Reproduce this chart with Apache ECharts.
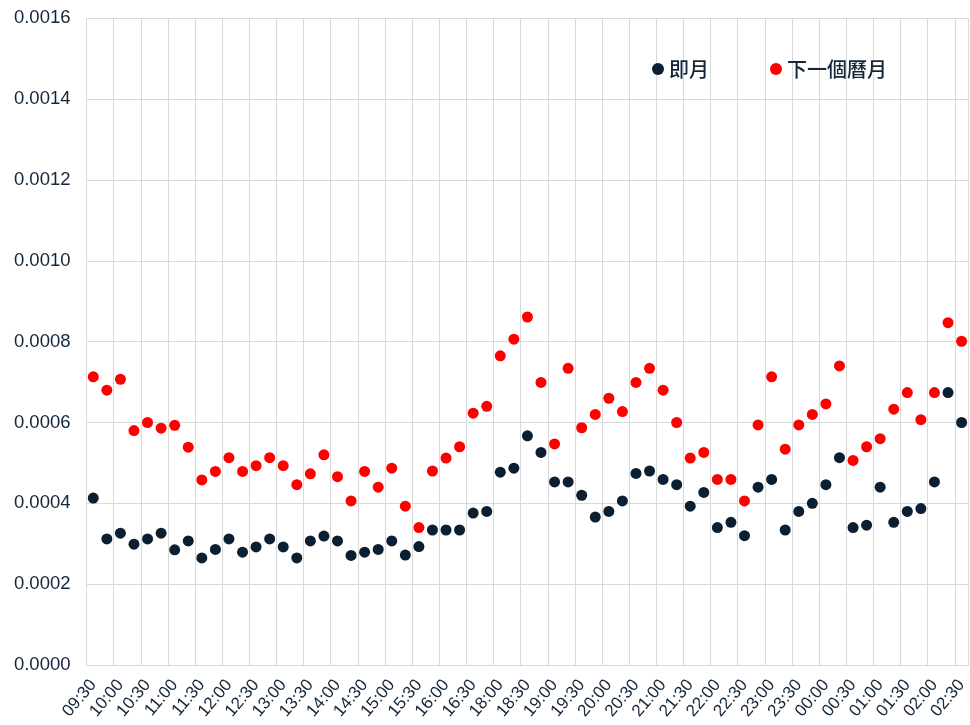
<!DOCTYPE html>
<html>
<head>
<meta charset="utf-8">
<script src="https://cdn.jsdelivr.net/npm/echarts@6/dist/echarts.min.js"></script>
<style>
html,body{margin:0;padding:0;background:#fff;}
#chart{width:970px;height:725px;}
</style>
</head>
<body>
<div id="chart"></div>
<script>
const categories = [
  "09:30","09:45","10:00","10:15","10:30","10:45","11:00","11:15","11:30","11:45",
  "12:00","12:15","12:30","12:45","13:00","13:15","13:30","13:45","14:00","14:15",
  "14:30","14:45","15:00","15:15","15:30","15:45","16:00","16:15","16:30","17:45",
  "18:00","18:15","18:30","18:45","19:00","19:15","19:30","19:45","20:00","20:15",
  "20:30","20:45","21:00","21:15","21:30","21:45","22:00","22:15","22:30","22:45",
  "23:00","23:15","23:30","23:45","00:00","00:15","00:30","00:45","01:00","01:15",
  "01:30","01:45","02:00","02:15","02:30"
];
const seriesNames = ["即月", "下一個曆月"];
const spotMonth = [
  0.000413,0.000312,0.000326,0.000299,0.000312,0.000326,0.000285,0.000307,0.000265,0.000286,
  0.000312,0.000279,0.000292,0.000312,0.000292,0.000265,0.000307,0.000319,0.000307,0.000271,
  0.000279,0.000286,0.000307,0.000272,0.000293,0.000334,0.000334,0.000334,0.000376,0.000380,
  0.000477,0.000487,0.000567,0.000526,0.000453,0.000453,0.000420,0.000366,0.000380,0.000406,
  0.000474,0.000480,0.000459,0.000446,0.000393,0.000427,0.000340,0.000353,0.000320,0.000440,
  0.000459,0.000334,0.000380,0.000400,0.000446,0.000513,0.000340,0.000346,0.000440,0.000353,
  0.000380,0.000387,0.000453,0.000674,0.000600
];
const nextMonth = [
  0.000713,0.000680,0.000707,0.000580,0.000600,0.000586,0.000593,0.000539,0.000458,0.000479,
  0.000513,0.000479,0.000493,0.000513,0.000493,0.000446,0.000473,0.000520,0.000466,0.000406,
  0.000479,0.000440,0.000487,0.000393,0.000340,0.000480,0.000512,0.000540,0.000623,0.000640,
  0.000765,0.000806,0.000861,0.000699,0.000547,0.000734,0.000587,0.000620,0.000660,0.000627,
  0.000699,0.000734,0.000680,0.000600,0.000512,0.000526,0.000459,0.000459,0.000406,0.000594,
  0.000713,0.000534,0.000594,0.000620,0.000646,0.000740,0.000506,0.000540,0.000560,0.000633,
  0.000674,0.000607,0.000674,0.000847,0.000801
];
const yTicks = [0, 0.0002, 0.0004, 0.0006, 0.0008, 0.0010, 0.0012, 0.0014, 0.0016];

const textColor = '#14263a';
const gridColor = '#d9d9d9';
const chart = echarts.init(document.getElementById('chart'), null, {renderer: 'canvas'});
chart.setOption({
  animation: false,
  backgroundColor: '#ffffff',
  grid: {left: 86.5, top: 18.3, width: 884.5, height: 646.7, containLabel: false},
  legend: {
    left: 647, top: 54,
    itemGap: 61, itemWidth: 12, itemHeight: 12,
    icon: 'circle',
    textStyle: {color: textColor, fontSize: 20, fontWeight: 500, fontFamily: 'Noto Sans CJK TC, Liberation Sans, sans-serif'},
    data: seriesNames
  },
  xAxis: {
    type: 'category',
    data: categories,
    boundaryGap: true,
    axisLine: {show: true, lineStyle: {color: gridColor, width: 1}},
    axisTick: {show: false, interval: 1},
    splitLine: {show: true, interval: 1, lineStyle: {color: gridColor, width: 1}},
    axisLabel: {
      interval: 1, rotate: 50, margin: 17,
      color: textColor, fontSize: 17, fontFamily: 'Liberation Sans, Arial, sans-serif'
    }
  },
  yAxis: {
    type: 'value',
    min: yTicks[0], max: yTicks[yTicks.length - 1], interval: 0.0002,
    axisLine: {show: false},
    axisTick: {show: false},
    splitLine: {show: true, lineStyle: {color: gridColor, width: 1}},
    axisLabel: {
      margin: 16, color: textColor, fontSize: 18.5,
      fontFamily: 'Liberation Sans, Arial, sans-serif',
      formatter: v => v.toFixed(4)
    }
  },
  series: [
    {name: seriesNames[0], type: 'scatter', data: spotMonth, symbol: 'circle', symbolSize: 11,
     itemStyle: {color: '#0b1f33', opacity: 1}},
    {name: seriesNames[1], type: 'scatter', data: nextMonth, symbol: 'circle', symbolSize: 11,
     itemStyle: {color: '#ff0000', opacity: 1}}
  ]
});
</script>
</body>
</html>
